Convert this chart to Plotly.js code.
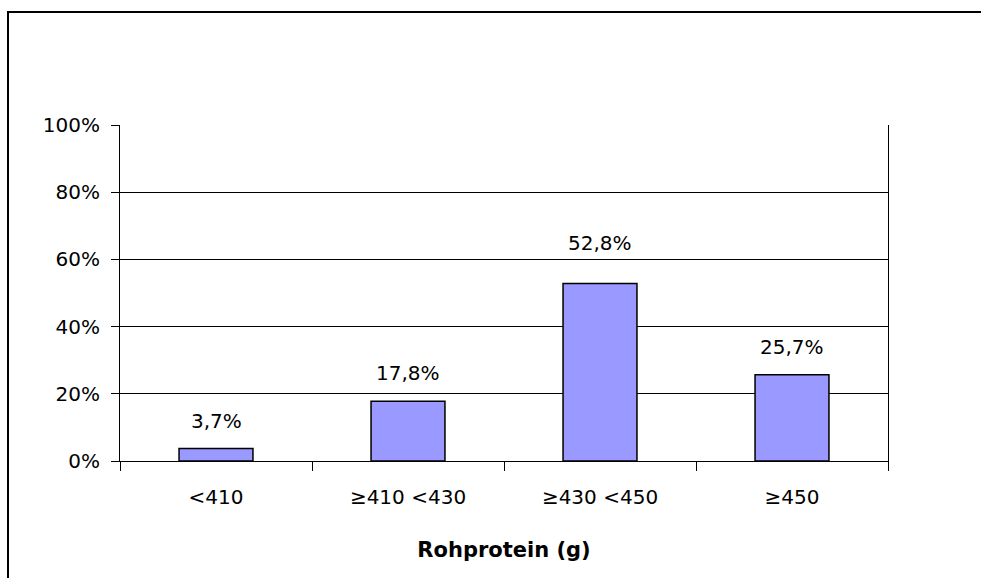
<!DOCTYPE html>
<html>
<head>
<meta charset="utf-8">
<script src="https://cdn.plot.ly/plotly-3.0.1.min.js"></script>
<style>
  html, body { margin: 0; padding: 0; background: #fff; }
  #wrap { position: relative; width: 981px; height: 578px; overflow: hidden; }
  #chart { position: absolute; left: 0; top: 0; width: 981px; height: 578px; }
  #frame { position: absolute; left: 7px; top: 11px; width: 990px; height: 600px;
           border-left: 2px solid #000; border-top: 2px solid #000; pointer-events: none; }
</style>
</head>
<body>
<div id="wrap">
  <div id="chart"></div>
  <div id="frame"></div>
</div>
<script>
const categories = ["<410", "≥410 <430", "≥430 <450", "≥450"];
const values = [3.7, 17.8, 52.8, 25.7];
const yTickValues = [0, 20, 40, 60, 80, 100];
const xTitle = "Rohprotein (g)";

const font = "DejaVu Sans, Arial, sans-serif";

const trace = {
  type: "bar",
  x: categories,
  y: values,
  marker: { color: "#9999FF", line: { color: "#000000", width: 1.5 } },
  hoverinfo: "skip"
};

// the label above the tallest bar sits a little higher in the original (clears the 60% gridline)
const annotations = categories.map((c, i) => ({
  x: c,
  y: values[i],
  xref: "x",
  yref: "y",
  text: values[i].toFixed(1).replace(".", ",") + "%",
  showarrow: false,
  yanchor: "bottom",
  yshift: (values[i] === Math.max(...values)) ? 27 : 14,
  font: { family: font, size: 20, color: "#000" }
}));

const layout = {
  width: 981,
  height: 578,
  paper_bgcolor: "#ffffff",
  plot_bgcolor: "#ffffff",
  margin: { l: 120, r: 93, t: 125, b: 117 },
  showlegend: false,
  bargap: 0.615,
  font: { family: font, size: 20, color: "#000" },
  xaxis: {
    type: "category",
    tickson: "boundaries",
    ticks: "outside",
    ticklen: 9,
    tickwidth: 1,
    tickcolor: "#000",
    showline: true,
    linecolor: "#000",
    linewidth: 1,
    showgrid: false,
    ticklabelstandoff: 18,
    tickfont: { family: font, size: 20, color: "#000" },
    title: { text: xTitle, standoff: 34, font: { family: font, size: 21, color: "#000", weight: "bold" } }
  },
  yaxis: {
    range: [0, 100],
    tickvals: yTickValues,
    ticktext: yTickValues.map(v => v + "%"),
    ticks: "outside",
    ticklen: 8,
    tickwidth: 1,
    tickcolor: "#000",
    showline: true,
    linecolor: "#000",
    linewidth: 1,
    mirror: true,
    showgrid: true,
    gridcolor: "#000",
    gridwidth: 1,
    zeroline: false,
    ticklabelstandoff: 7,
    tickfont: { family: font, size: 20, color: "#000" }
  },
  annotations: annotations
};

Plotly.newPlot("chart", [trace], layout, { displayModeBar: false, staticPlot: true });
</script>
</body>
</html>
